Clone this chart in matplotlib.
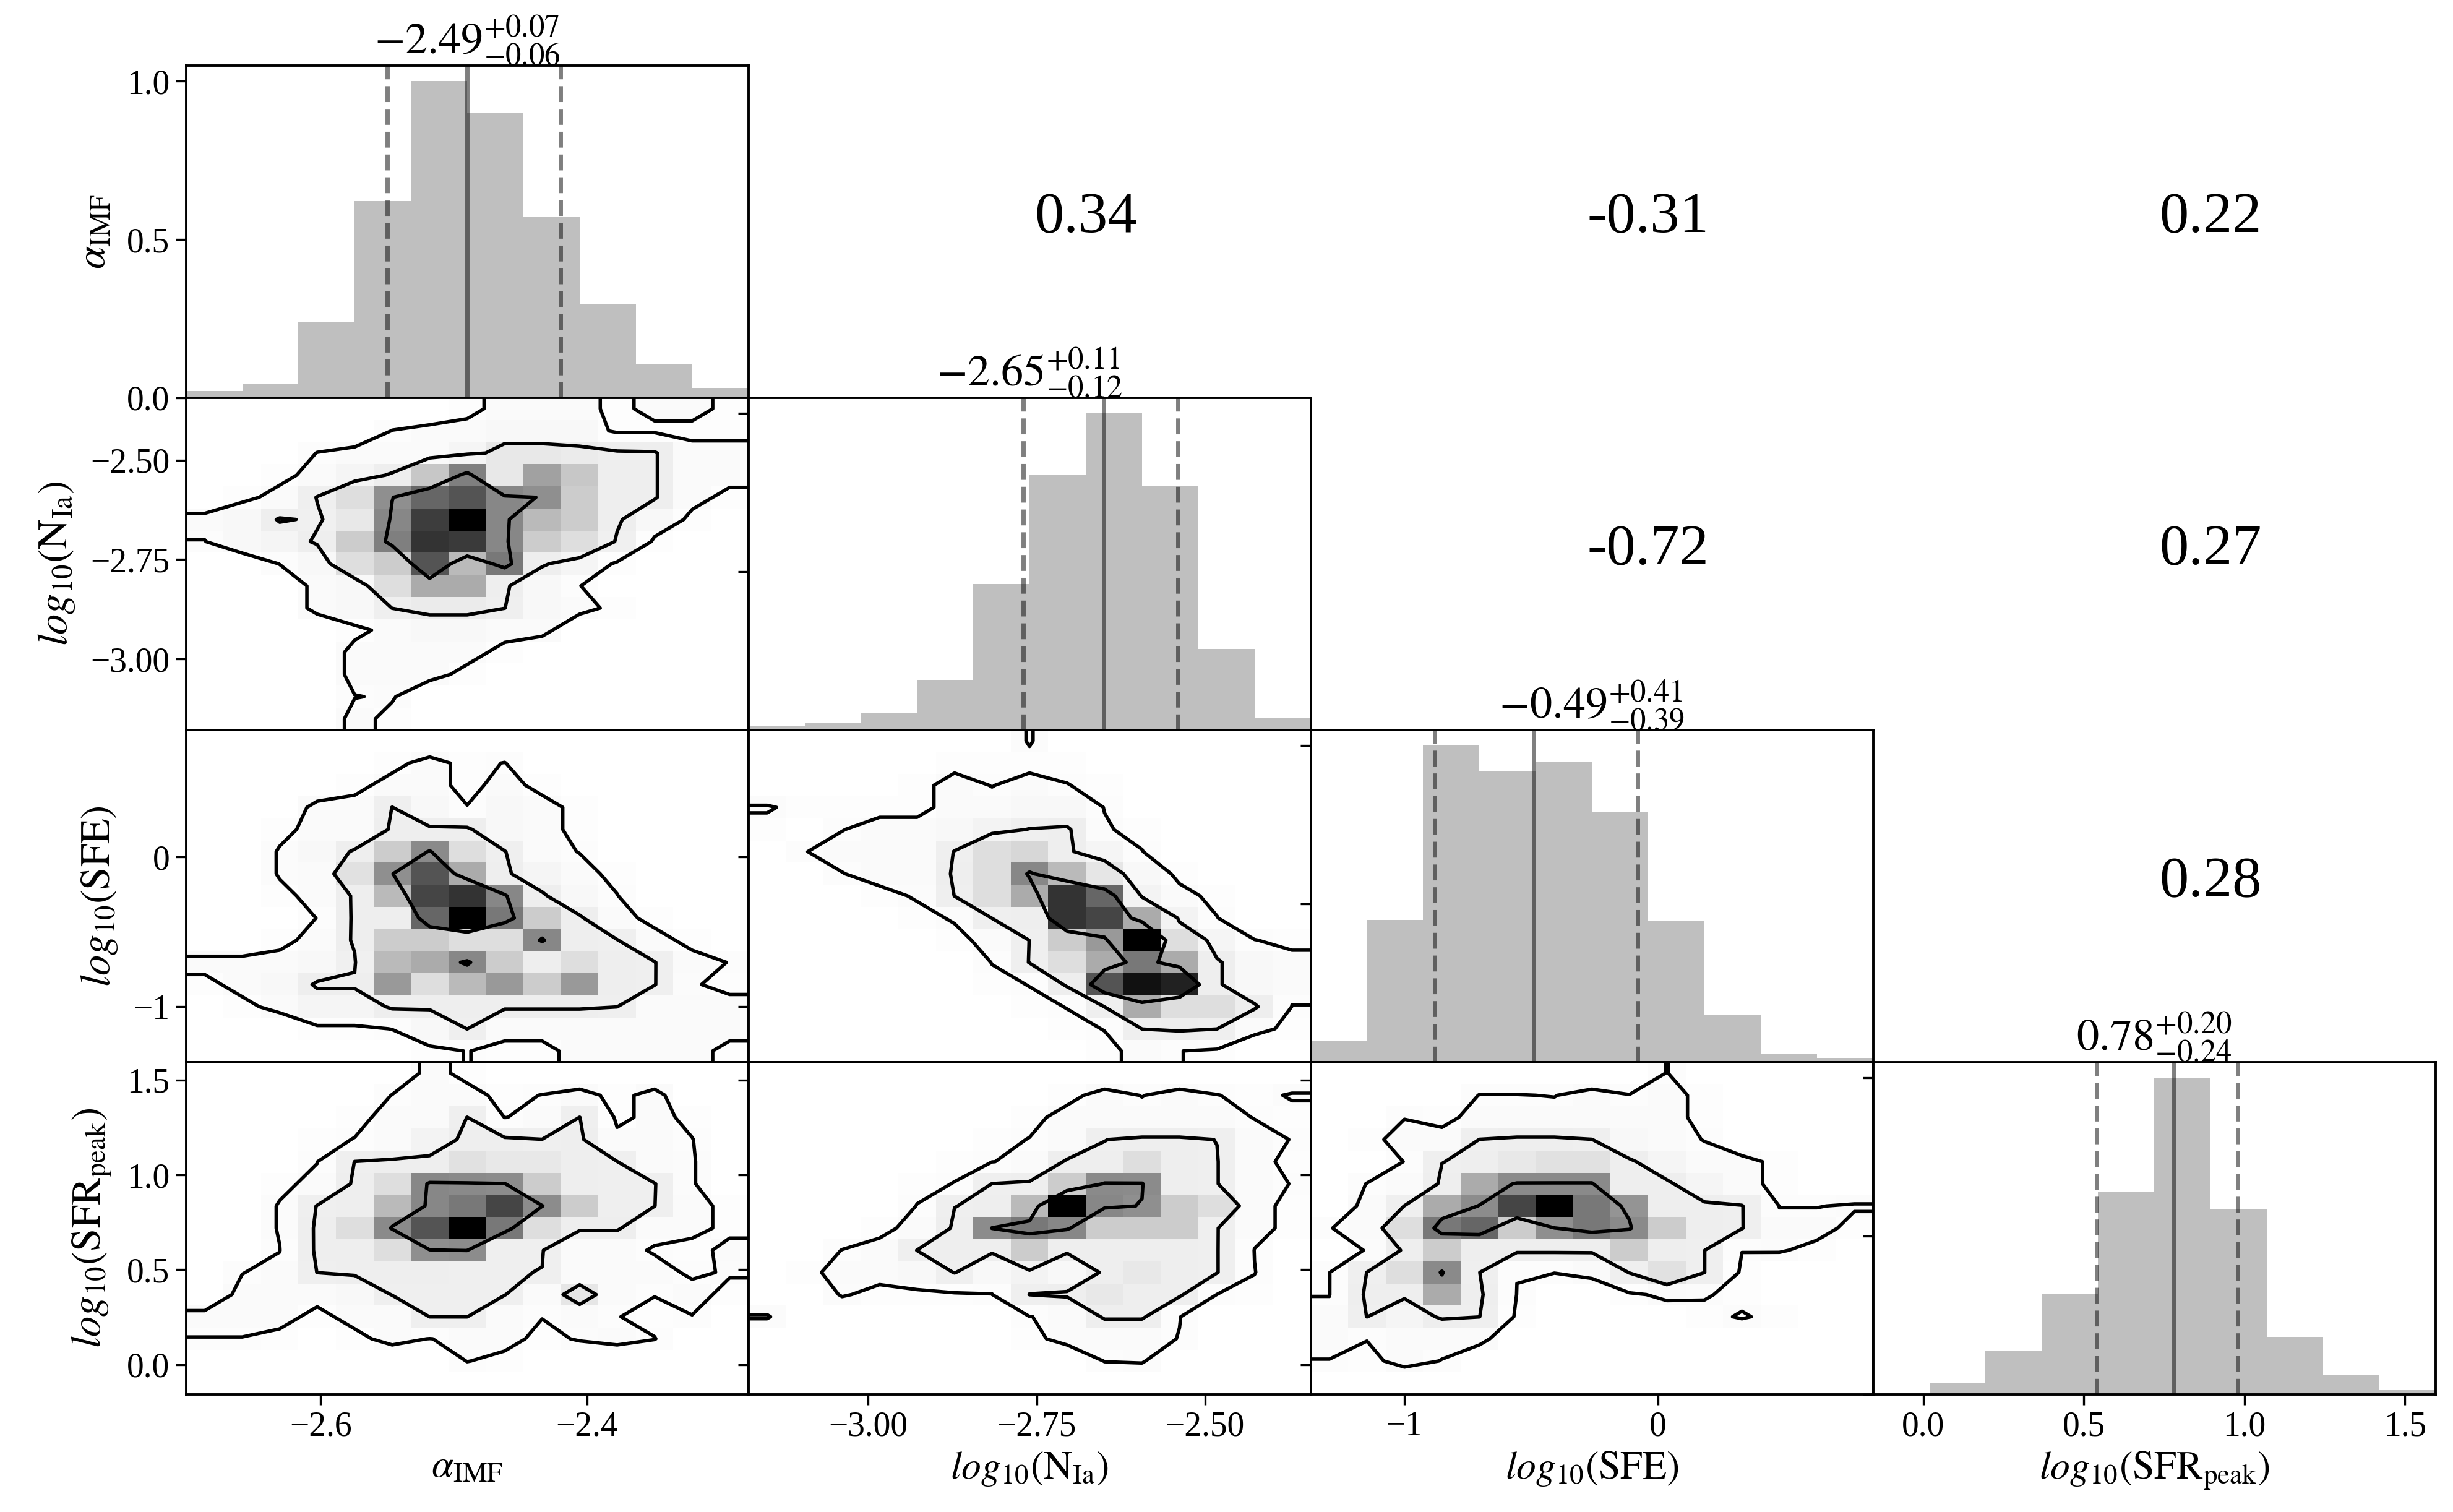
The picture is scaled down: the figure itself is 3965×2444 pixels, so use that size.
import numpy as np
import matplotlib
matplotlib.use('Agg')
import matplotlib.pyplot as plt
from matplotlib.colors import LinearSegmentedColormap

plt.rcParams['font.family'] = ['Liberation Serif', 'DejaVu Serif']
plt.rcParams['mathtext.fontset'] = 'stix'

labels = [r'$\alpha_{\rm IMF}$', r'$log_{10}(\rm N_{Ia})$',
          r'$log_{10}(\rm SFE)$', r'$log_{10}(\rm SFR_{peak})$']
ranges = [(-2.701, -2.279), (-3.178, -2.343), (-1.368, 0.848), (-0.156, 1.595)]
ticks = [[-2.6, -2.4], [-3.0, -2.75, -2.5], [-1, 0], [0.0, 0.5, 1.0, 1.5]]

medians = [-2.49, -2.65, -0.49, 0.78]
err_lo = [0.06, 0.12, 0.39, 0.24]
err_hi = [0.07, 0.11, 0.41, 0.20]

# normalised 1D histograms (10 bins over each range)
hist_alpha = [0.021, 0.042, 0.24, 0.621, 1.0, 0.90, 0.572, 0.297, 0.107, 0.031]
hist_nia = [0.011, 0.021, 0.052, 0.158, 0.461, 0.807, 1.0, 0.772, 0.255, 0.037]
hist_sfe = [0.065, 0.449, 1.0, 0.919, 0.950, 0.791, 0.447, 0.148, 0.026, 0.013]
hist_sfr = [0.0, 0.037, 0.136, 0.316, 0.641, 1.0, 0.584, 0.181, 0.061, 0.012]
hists = [hist_alpha, hist_nia, hist_sfe, hist_sfr]

# correlation coefficients for the upper triangle (row, col, value)
corr_cells = [(0, 1, 0.34), (0, 2, -0.31), (0, 3, 0.22),
              (1, 2, -0.72), (1, 3, 0.27), (2, 3, 0.28)]

# 2D densities, 15x15, first list = top row (highest y), scale 0-100
nia_vs_alpha = [
    [0, 0, 0, 0, 0, 0, 0, 1, 2, 2, 2, 1, 2, 2, 1],
    [0, 0, 0, 0, 0, 1.5, 2, 2, 3, 3, 3, 1, 1, 1, 1],
    [0, 0, 0, 1.5, 2, 2, 2, 4, 9, 9, 8, 7, 6.8, 2, 2],
    [0, 0, 1, 2, 4, 7, 22, 50, 9, 37, 22, 7, 6.8, 2, 2],
    [0, 1, 2, 6.6, 13, 44, 60, 67, 47, 44, 20, 7, 6.8, 2, 1],
    [2, 3, 6.8, 6, 9, 47, 76, 100, 47, 27, 20, 7, 3, 1, 0],
    [1.4, 3, 4, 7, 20, 50, 80, 77, 47, 20, 13, 6, 1, 0, 0],
    [0, 0, 1.5, 3, 13, 20, 67, 27, 53, 7, 4, 1, 0, 0, 0],
    [0, 0, 0, 2, 3, 13, 33, 33, 7, 3, 1.5, 0, 0, 0, 0],
    [0, 0, 0, 2, 3, 6.5, 8, 8, 6.5, 3, 2, 1, 0, 0, 0],
    [0, 0, 0, 0, 1, 2, 3, 3, 2, 2, 0, 0, 0, 0, 0],
    [0, 0, 0, 0, 2, 2, 2, 2, 1, 0, 0, 0, 0, 0, 0],
    [0, 0, 0, 0, 2, 2, 2, 1, 0, 0, 0, 0, 0, 0, 0],
    [0, 0, 0, 0, 1.4, 1.6, 0, 0, 0, 0, 0, 0, 0, 0, 0],
    [0, 0, 0, 0, 2, 1, 0, 0, 0, 0, 0, 0, 0, 0, 0],
]
sfe_vs_alpha = [
    [0, 0, 0, 0, 0, 0, 0, 0, 0, 0, 0, 0, 0, 0, 0],
    [0, 0, 0, 0, 0, 1, 2, 1, 1.5, 0, 0, 0, 0, 0, 0],
    [0, 0, 0, 0, 1, 2, 2, 1, 2, 1, 0, 0, 0, 0, 0],
    [0, 0, 0, 2, 2, 6.5, 3, 1.5, 3, 2, 1, 0, 0, 0, 0],
    [0, 0, 1, 2, 2, 7, 7, 7, 3, 2, 1, 0, 0, 0, 0],
    [0, 0, 1.6, 3, 7, 20, 46, 13, 6.6, 2, 1.4, 0, 0, 0, 0],
    [0, 0, 1.6, 2, 12, 44, 67, 33, 7, 4, 2, 1, 0, 0, 0],
    [0, 0, 1, 2, 7, 27, 73, 80, 47, 7, 3, 1.5, 0, 0, 0],
    [0, 0, 0, 1.5, 7, 7, 60, 100, 53, 20, 7, 2, 1, 0, 0],
    [0, 0, 1, 2, 7, 20, 20, 13, 13, 47, 7, 6.6, 2, 1, 0],
    [2, 2, 2, 3, 6, 27, 33, 47, 20, 7, 13, 7, 6.6, 2, 1.4],
    [1, 2, 3, 7, 7, 40, 13, 27, 40, 20, 40, 7, 6.6, 1.6, 1],
    [0, 1, 2, 4, 4, 7, 7, 7, 7, 7, 7, 6.5, 2, 2, 2],
    [0, 0, 0, 1, 1, 1.5, 3, 6.5, 2, 2, 2, 2, 2, 2, 2],
    [0, 0, 0, 0, 0, 0, 1, 1.5, 1, 1, 2, 2, 2, 2, 1],
]
sfe_vs_nia = [
    [0, 0, 0, 0, 0, 0, 0, 1.6, 0, 0, 0, 0, 0, 0, 0],
    [0, 0, 0, 0, 0, 1, 1, 1, 1, 0, 0, 0, 0, 0, 0],
    [0, 0, 0, 0, 1, 2, 1.4, 2, 1.5, 1, 0, 0, 0, 0, 0],
    [1.6, 1, 1, 1, 1, 2, 2, 3, 3, 1.4, 0, 0, 0, 0, 0],
    [1, 0, 1.4, 2, 2, 3, 5, 6.6, 7, 1.6, 1, 0, 0, 0, 0],
    [0, 1.4, 2, 2, 2, 6.6, 13, 16, 7, 4, 1.5, 0, 0, 0, 0],
    [0, 0, 1.4, 2, 2, 7, 13, 47, 27, 10, 3, 1, 0, 0, 0],
    [0, 0, 0, 1, 1.6, 6.5, 13, 33, 80, 60, 5, 2, 1, 0, 0],
    [0, 0, 0, 0, 1, 1.6, 6.5, 7, 80, 73, 33, 5, 1.5, 0, 0],
    [0, 0, 0, 0, 0, 1, 2, 6.5, 20, 40, 100, 13, 4, 1.5, 1],
    [0, 0, 0, 0, 0, 0, 1.5, 6.6, 13, 33, 53, 33, 7, 3, 2],
    [0, 0, 0, 0, 0, 0, 1, 1.5, 7, 67, 93, 87, 7, 3, 2],
    [0, 0, 0, 0, 0, 0, 0, 1, 1.5, 6.5, 33, 13, 13, 7, 1.4],
    [0, 0, 0, 0, 0, 0, 0, 0, 1, 1.5, 6.5, 7, 6.5, 2, 1],
    [0, 0, 0, 0, 0, 0, 0, 0, 0, 1, 2, 1.5, 1, 0, 0],
]
sfr_vs_alpha = [
    [0, 0, 0, 0, 0, 0, 2, 1, 0, 0, 0, 0, 0, 0, 0],
    [0, 0, 0, 0, 0, 1.5, 2, 2, 1, 1.5, 2, 1, 2, 0, 0],
    [0, 0, 0, 0, 1, 2, 2, 6.5, 1.4, 2, 6.5, 1, 2, 1, 0],
    [0, 0, 0, 1, 1.5, 2, 5, 7, 7, 6.5, 7, 2, 2, 1.5, 0],
    [0, 0, 0, 1.4, 6.5, 7, 7, 12, 9, 9, 7, 6.5, 2, 1.6, 0],
    [0, 0, 1, 2, 7, 13, 47, 46, 45, 20, 7, 6.6, 6.6, 1.6, 0],
    [0, 0, 1.6, 6.6, 7, 27, 47, 53, 73, 45, 20, 6.6, 6.5, 2, 1],
    [0, 0, 1.6, 7, 13, 46, 67, 100, 53, 13, 7, 7, 2, 2, 1],
    [0, 0, 1.4, 7, 7, 13, 44, 45, 6.6, 6.6, 2, 2, 1.3, 0.8, 2],
    [0, 1.4, 2, 6.5, 7, 7, 7, 6.6, 6.6, 6.4, 2, 2, 2, 1.2, 1.6],
    [0, 2, 2, 2, 3, 6.6, 6.6, 6.6, 6.6, 2, 10, 2, 1.5, 2, 1],
    [2, 2, 2, 1, 2, 2, 6.5, 6.5, 2, 1.5, 2, 1.5, 1, 1.4, 0],
    [1.4, 1.4, 1, 0, 1, 2, 1.4, 2, 2, 1, 1.6, 2, 1.5, 0, 0],
    [0, 0, 0, 0, 0, 0, 0, 1.5, 1, 0, 0, 0, 0, 0, 0],
    [0, 0, 0, 0, 0, 0, 0, 0, 0, 0, 0, 0, 0, 0, 0],
]
sfr_vs_nia = [
    [0, 0, 0, 0, 0, 0, 0, 0, 0, 0, 0, 0, 0, 0, 0],
    [0, 0, 0, 0, 0, 0, 0, 0, 1, 2, 1.4, 2, 1.5, 1, 1.6],
    [0, 0, 0, 0, 0, 0, 0, 1, 2, 2, 2, 2, 2, 1.4, 1],
    [0, 0, 0, 0, 0, 0, 1, 1.5, 2, 6.4, 7, 7, 6.4, 2, 1.4],
    [0, 0, 0, 0, 0, 1, 1.4, 2, 7, 7, 13, 7, 6.6, 2, 1],
    [0, 0, 0, 0, 1, 1.5, 6.5, 7, 20, 46, 45.5, 7, 6.6, 2, 1.4],
    [0, 0, 0, 0, 1.5, 6.4, 7, 27, 100, 47, 44, 20, 13, 2, 1],
    [0, 0, 0, 1, 2, 7, 45, 53, 47, 20, 20, 20, 6.6, 2, 1],
    [0, 0, 1.5, 2, 6.5, 7, 7, 20, 7, 7, 7, 7, 6.6, 1.4, 0],
    [0, 1, 2, 2, 3, 6.6, 3, 5, 3, 7, 9, 7, 6.6, 1.5, 0],
    [0, 0, 1.6, 1, 1, 1, 1.4, 6.5, 7, 9, 7, 7, 1.4, 1, 0],
    [1.6, 0, 0, 0, 0, 0, 0, 1.4, 2, 7, 7, 1.5, 0, 0, 0],
    [0, 0, 0, 0, 0, 0, 0, 1, 2, 2, 2, 1.4, 0, 0, 0],
    [0, 0, 0, 0, 0, 0, 0, 0, 0, 1.5, 1.6, 0, 0, 0, 0],
    [0, 0, 0, 0, 0, 0, 0, 0, 0, 0, 0, 0, 0, 0, 0],
]
sfr_vs_sfe = [
    [0, 0, 0, 0, 0, 0, 0, 0, 0, 1.5, 0, 0, 0, 0, 0],
    [0, 0, 0, 0, 1.5, 1.5, 1.4, 2, 1.5, 2, 1, 0, 0, 0, 0],
    [0, 0, 1.4, 1, 2, 2, 2, 2, 2, 2, 1, 0, 0, 0, 0],
    [0, 1, 2, 2, 6.5, 7, 7, 6.5, 3, 2, 1.4, 0, 0, 0, 0],
    [0, 0, 1.5, 6.4, 7, 9, 12, 12, 7, 4, 2, 2, 1, 0, 0],
    [0, 1.5, 2, 7, 33, 46, 46, 46, 7, 7, 4, 2, 1, 0, 0],
    [0, 2, 6.5, 33, 45, 73, 100, 53, 42, 7, 7, 6.6, 1.4, 1.4, 1.6],
    [1.4, 2, 13, 53, 60, 20, 44, 53, 46, 20, 7, 6.6, 2, 2, 1],
    [0, 1.6, 7, 20, 7, 7, 7, 7, 20, 7, 6.5, 1.5, 1.6, 1, 0],
    [1.4, 6.5, 13, 46, 6.5, 1.5, 1.5, 2, 6.6, 12, 6.5, 1, 0, 0, 0],
    [1.4, 7, 7, 33, 7, 1.4, 0, 0, 1, 2, 1.6, 1, 0, 0, 0],
    [2, 6.5, 4, 7, 6.5, 1, 0, 0, 0, 0, 1, 1.6, 1, 0, 0],
    [2, 1.5, 2, 2, 2, 0, 0, 0, 0, 0, 0, 0, 0, 0, 0],
    [1.4, 1, 2, 1.4, 0, 0, 0, 0, 0, 0, 0, 0, 0, 0, 0],
    [0, 0, 0, 0, 0, 0, 0, 0, 0, 0, 0, 0, 0, 0, 0],
]
panels = {(1, 0): nia_vs_alpha, (2, 0): sfe_vs_alpha, (2, 1): sfe_vs_nia,
          (3, 0): sfr_vs_alpha, (3, 1): sfr_vs_nia, (3, 2): sfr_vs_sfe}

levels = [1.45, 6.45, 44.5]
cmap = LinearSegmentedColormap.from_list('wk', ['#ffffff', '#000000'])

fig, axes = plt.subplots(4, 4, figsize=(19.83, 12.22), dpi=200)
fig.subplots_adjust(left=0.0758, right=0.9926, bottom=0.0779, top=0.9567,
                    wspace=0, hspace=0)

n = 4
for i in range(n):
    for j in range(n):
        ax = axes[i, j]
        if j > i:
            ax.set_axis_off()
            continue
        for s in ax.spines.values():
            s.set_linewidth(1.4)
        ax.tick_params(labelsize=20, length=6, width=1.2)
        if i == j:
            lo, hi = ranges[i]
            edges = np.linspace(lo, hi, len(hists[i]) + 1)
            ax.stairs(hists[i], edges, fill=True, color='#bfbfbf')
            m = medians[i]
            ax.axvline(m, color='k', alpha=0.5, lw=2.5)
            ax.axvline(m - err_lo[i], color='k', alpha=0.5, lw=2.5, ls='--')
            ax.axvline(m + err_hi[i], color='k', alpha=0.5, lw=2.5, ls='--')
            ax.set_xlim(lo, hi)
            ax.set_ylim(0, 1.05)
            ax.set_yticks([0.0, 0.5, 1.0])
            if i != 0:
                ax.set_yticklabels([])
            title = r'$%.2f^{+%.2f}_{-%.2f}$' % (m, err_hi[i], err_lo[i])
            ax.text(0.5, 1.035, title, transform=ax.transAxes, ha='center',
                    va='baseline', fontsize=26)
        else:
            grid = np.flipud(np.array(panels[(i, j)], dtype=float))
            xlo, xhi = ranges[j]
            ylo, yhi = ranges[i]
            xe = np.linspace(xlo, xhi, grid.shape[1] + 1)
            ye = np.linspace(ylo, yhi, grid.shape[0] + 1)
            ax.pcolormesh(xe, ye, grid, cmap=cmap, vmin=0, vmax=100,
                          shading='flat')
            xc = np.concatenate([[xlo], 0.5 * (xe[1:] + xe[:-1]), [xhi]])
            yc = np.concatenate([[ylo], 0.5 * (ye[1:] + ye[:-1]), [yhi]])
            ax.contour(xc, yc, np.pad(grid, 1, mode='edge'), levels=levels,
                       colors='k', linewidths=2.0)
            ax.set_xlim(xlo, xhi)
            ax.set_ylim(ylo, yhi)
            ax.set_yticks(ticks[i])
            if j != 0:
                ax.set_yticklabels([])
            else:
                ax.set_ylabel(labels[i], fontsize=24, labelpad=8)
        ax.set_xticks(ticks[j])
        if i != n - 1:
            ax.set_xticklabels([])
        else:
            ax.set_xlabel(labels[j], fontsize=23)
        ax.set_xlim(ranges[j])

axes[0, 0].set_ylabel(labels[0], fontsize=24, labelpad=8)

for (i, j, v) in corr_cells:
    axes[i, j].text(0.6, 0.54, '%.2f' % v, transform=axes[i, j].transAxes,
                    ha='center', va='center', fontsize=34)

fig.savefig('out.png', dpi=200)
